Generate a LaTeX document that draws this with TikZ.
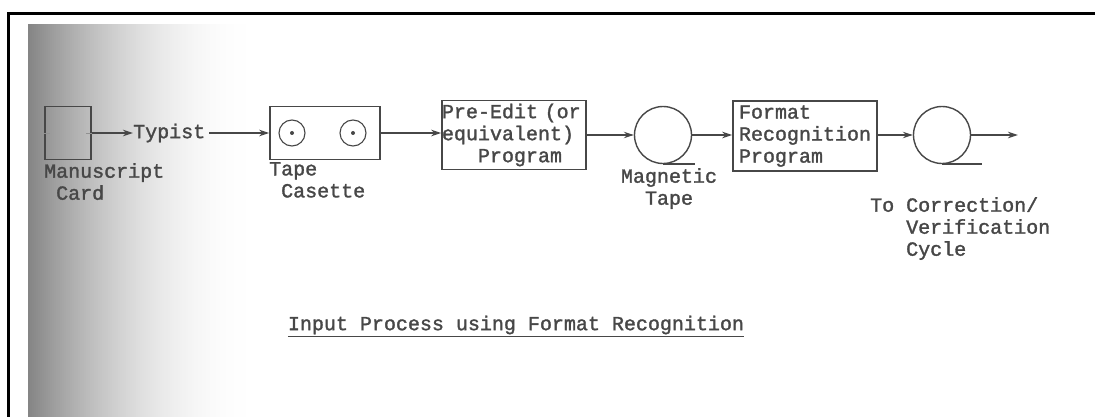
\documentclass[tikz,border=0pt]{standalone}
\usepackage{fontspec}
\setmonofont{Liberation Mono}[FakeBold=1.6]
\usepackage{xcolor}
\usetikzlibrary{arrows.meta,positioning,calc}
\definecolor{ink}{gray}{0.28}

\begin{document}
\begin{tikzpicture}[x=1pt, y=-1pt,
            box/.style={draw=ink, rectangle, line width=1.5pt, inner sep=0pt},
            lbl/.style={font=\ttfamily\fontsize{20}{22}\selectfont, text=ink, inner sep=0pt, align=left},
            reel/.style={draw=ink, circle, line width=1.4pt, minimum size=57pt, inner sep=0pt},
            hub/.style={draw=ink, circle, line width=1.1pt, minimum size=26pt, inner sep=0pt},
            arrow/.style={-{Stealth[length=10pt,width=6.5pt]}, draw=ink, line width=1.3pt}
        ]
            \useasboundingbox (0,0) rectangle (1095,417);
            % scanned page, darker towards the binding
            \foreach \i in {0,...,115} {
                \pgfmathsetmacro{\shadepct}{48*(1-\i/115)^2}
                \fill[black!\shadepct] (28+2*\i,24) rectangle (30.4+2*\i,417);
            }
            \draw[line width=3.5pt, line join=miter] (8.5,417) -- (8.5,13.5) -- (1095,13.5);

            \node[box, minimum width=46pt, minimum height=53pt] (card) at (68,133) {};
            \draw[ink!60, line width=0.8pt] (card.west) -- ++(6,0);
            \draw[ink!60, line width=0.8pt] (card.east) -- ++(-6,0);
            \node[lbl, anchor=west] (typist) at (133,133) {Typist};

            \node[box, minimum width=110pt, minimum height=53pt] (tape) at (325,133) {};
            \node[hub] (lhub) at (292,133) {};
            \node[hub] (rhub) at (353,133) {};
            \fill[ink] (lhub) circle (2pt) (rhub) circle (2pt);

            \node[box, lbl, minimum width=144pt, minimum height=69pt, text width=144pt, inner sep=0pt] (preedit) at (514,135)
                {Pre-Edit (or\\equivalent)\\\phantom{Pro}Program};

            \node[reel] (mtape) at (663,135) {};
            \draw[ink, line width=1.4pt] (mtape.south) -- ++(32,0);

            \node[box, lbl, minimum width=144pt, minimum height=70pt, text width=132pt, inner xsep=6pt] (format) at (805,136)
                {Format\\Recognition\\Program};

            \node[reel] (vtape) at (942,135) {};
            \draw[ink, line width=1.4pt] (vtape.south) -- ++(40,0);
            \coordinate (cycle) at (1018,135);

            \draw[arrow] (card.east) -- (typist.west);
            \draw[arrow, shorten <=4pt] (typist.east) -- (tape.west);
            \draw[arrow] (tape.east) -- (tape.east -| preedit.west);
            \draw[arrow] (preedit.east |- mtape.west) -- (mtape.west);
            \draw[arrow] (mtape.east) -- (mtape.east -| format.west);
            \draw[arrow] (format.east |- vtape.west) -- (vtape.west);
            \draw[arrow] (vtape.east) -- (cycle);

            % Labels
            \node[lbl, anchor=north west] (cardlbl) at (44,163) {Manuscript\\\phantom{M}Card};
            \node[lbl, anchor=north west] (tapelbl) at (269,162) {Tape\\\phantom{T}Casette};
            \node[lbl, align=center, anchor=north] (mtapelbl) at (669,168) {Magnetic\\Tape};
            \node[lbl, anchor=north west] (cyclelbl) at (870,197) {To Correction/\\\phantom{To }Verification\\\phantom{To }Cycle};
            \node[lbl] (title) at (516,326) {\underline{Input Process using Format Recognition}};
        \end{tikzpicture}
\end{document}
